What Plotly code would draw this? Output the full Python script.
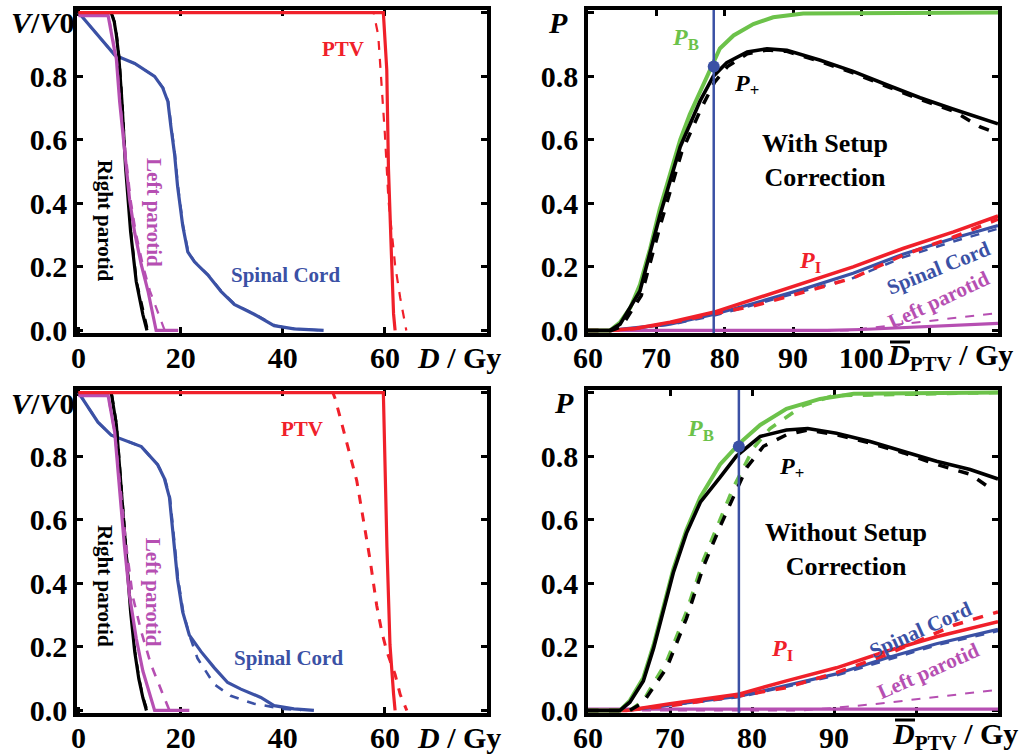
import plotly.graph_objects as go

# ---------------- data ----------------
# Top-left: DVH with setup correction
tl_rp_D = [0, 6.4, 7.0, 7.4, 7.9, 8.5, 9.2, 10.2, 11.3, 12.6, 13.4]
tl_rp_V = [1, 1, 0.97, 0.93, 0.86, 0.72, 0.515, 0.31, 0.154, 0.05, 0]
tl_rp_D_d = [0, 6.5, 7.1, 7.5, 8.0, 8.6, 9.3, 10.3, 11.4, 12.8, 13.6]
tl_rp_V_d = [1, 1, 0.97, 0.93, 0.86, 0.72, 0.515, 0.31, 0.154, 0.05, 0]
tl_lp_D = [0, 5.8, 7.1, 7.4, 8.05, 8.7, 9.36, 10.0, 10.97, 12.3, 13.6, 14.56, 15.2, 19.5]
tl_lp_V = [0.99, 0.99, 0.876, 0.855, 0.72, 0.618, 0.515, 0.412, 0.31, 0.206, 0.124, 0.052, 0.0, 0.0]
tl_lp_D_d = [0, 5.9, 7.2, 7.5, 8.15, 8.8, 9.5, 10.2, 11.2, 12.6, 14.0, 15.2, 16.0, 16.8, 19.5]
tl_lp_V_d = [0.99, 0.99, 0.876, 0.855, 0.72, 0.618, 0.515, 0.412, 0.31, 0.206, 0.124, 0.07, 0.04, 0.003, 0.0]
tl_sc_D = [0, 3.2, 7.1, 11.0, 14.9, 16.5, 17.5, 18.1, 18.8, 19.4, 20.4, 21.4, 22.7, 25.3, 27.9, 30.5, 34.4, 38.3, 42.2, 48.0]
tl_sc_V = [1, 0.938, 0.866, 0.84, 0.799, 0.763, 0.72, 0.64, 0.556, 0.453, 0.33, 0.247, 0.216, 0.175, 0.123, 0.082, 0.051, 0.015, 0.005, 0]
tl_sc_D_d = [0, 3.2, 7.1, 11.0, 14.9, 16.6, 17.6, 18.2, 18.9, 19.5, 20.5, 21.5, 22.8, 25.4, 28.0, 30.7, 34.6, 38.6, 42.5, 48.0]
tl_sc_V_d = tl_sc_V
tl_ptv_D = [0, 59.7, 60.37, 60.7, 61.35, 61.7, 62.0]
tl_ptv_V = [1, 1, 0.82, 0.51, 0.206, 0.052, 0]
tl_ptv_D_d = [0, 57.8, 58.7, 59.4, 60.0, 60.7, 62.0, 63.0, 63.9, 64.2]
tl_ptv_V_d = [1, 1, 0.928, 0.773, 0.618, 0.41, 0.206, 0.103, 0.031, 0]

# Bottom-left: DVH without setup correction
bl_rp_D = [0, 6.4, 7.4, 8.25, 8.7, 9.36, 10.2, 11.0, 11.8, 12.6, 13.3]
bl_rp_V = [1, 1, 0.9, 0.72, 0.62, 0.464, 0.31, 0.185, 0.1, 0.04, 0]
bl_rp_D_d = [0, 6.5, 7.5, 8.35, 8.8, 9.46, 10.3, 11.1, 11.9, 12.7, 13.5]
bl_rp_V_d = bl_rp_V
bl_lp_D = [0, 5.8, 7.08, 8.05, 9.0, 10.0, 11.3, 12.6, 13.9, 14.9, 21.7]
bl_lp_V = [0.99, 0.99, 0.876, 0.69, 0.515, 0.36, 0.227, 0.124, 0.052, 0, 0]
bl_lp_D_d = [0, 5.8, 7.08, 8.4, 9.36, 10.6, 12.3, 14.2, 16.2, 17.8, 21.7]
bl_lp_V_d = [0.99, 0.99, 0.876, 0.67, 0.515, 0.36, 0.247, 0.144, 0.062, 0, 0]
bl_sc_D = [0, 3.8, 6.4, 12.3, 15.5, 16.8, 17.8, 18.4, 19.4, 20.4, 21.7, 24.0, 26.6, 29.2, 31.8, 35.7, 38.3, 42.2, 46.1]
bl_sc_V = [1, 0.907, 0.866, 0.83, 0.773, 0.73, 0.67, 0.567, 0.412, 0.31, 0.237, 0.185, 0.134, 0.088, 0.067, 0.041, 0.015, 0.005, 0]
bl_sc_D_d = [0, 3.8, 6.4, 12.3, 15.5, 16.9, 17.9, 18.5, 19.5, 20.5, 21.7, 23.3, 26.6, 29.8, 34.4, 40.2, 43.5]
bl_sc_V_d = [1, 0.907, 0.866, 0.83, 0.773, 0.73, 0.67, 0.567, 0.412, 0.31, 0.237, 0.164, 0.082, 0.046, 0.021, 0.005, 0]
bl_ptv_D = [0, 59.7, 60.4, 61.0, 61.7, 62.0]
bl_ptv_V = [1, 1, 0.515, 0.206, 0.052, 0]
bl_ptv_D_d = [0, 49.8, 50.3, 52.9, 54.5, 55.8, 57.1, 58.4, 59.4, 60.4, 62.0, 63.0, 64.3]
bl_ptv_V_d = [1, 1, 0.979, 0.825, 0.722, 0.598, 0.474, 0.33, 0.247, 0.185, 0.113, 0.05, 0]

# Top-right: probabilities with setup correction
tr_pb_D = [60, 63.2, 64.7, 66.2, 67.6, 69.1, 70.5, 72.0, 73.5, 74.9, 76.4, 77.9, 79.3, 81.3, 84.2, 87.1, 91.5, 120]
tr_pb_P = [0, 0, 0.026, 0.072, 0.144, 0.258, 0.382, 0.495, 0.6, 0.68, 0.753, 0.825, 0.887, 0.928, 0.964, 0.985, 0.997, 1.0]
tr_pp_D = [60, 63.2, 64.7, 67.6, 70.5, 73.5, 76.4, 78.35, 80.3, 83.3, 86.2, 89.1, 94.0, 98.8, 103.7, 108.6, 113.5, 120]
tr_pp_P = [0, 0, 0.02, 0.124, 0.36, 0.578, 0.722, 0.80, 0.842, 0.876, 0.886, 0.881, 0.85, 0.815, 0.773, 0.732, 0.696, 0.65]
tr_pp_D_d = [60, 63.4, 64.9, 67.8, 70.7, 73.7, 76.6, 78.5, 80.4, 83.3, 86.2, 89.1, 94.0, 98.8, 103.7, 108.6, 113.5, 117.4, 120]
tr_pp_P_d = [0, 0, 0.012, 0.11, 0.34, 0.56, 0.70, 0.78, 0.83, 0.87, 0.882, 0.878, 0.846, 0.81, 0.768, 0.727, 0.69, 0.64, 0.62]
tr_pi_D = [60, 63.2, 67.1, 72.0, 78.35, 84.2, 91.5, 98.8, 106.1, 113.5, 120]
tr_pi_P = [0, 0, 0.007, 0.026, 0.057, 0.098, 0.15, 0.2, 0.258, 0.31, 0.36]
tr_pi_D_d = [60, 63.2, 67.1, 72.0, 78.35, 84.2, 91.5, 98.8, 106.1, 113.5, 120]
tr_pi_P_d = [0, 0, 0.006, 0.024, 0.052, 0.077, 0.12, 0.165, 0.237, 0.294, 0.35]
tr_sc_D = [60, 63.2, 72.0, 78.35, 84.2, 91.5, 98.8, 106.1, 113.5, 120]
tr_sc_P = [0, 0, 0.02, 0.05, 0.085, 0.13, 0.18, 0.24, 0.29, 0.33]
tr_sc_P_d = [0, 0, 0.018, 0.046, 0.08, 0.124, 0.165, 0.23, 0.28, 0.32]
tr_lp_D = [60, 95, 100, 105, 110, 115, 120]
tr_lp_P = [0, 0, 0.003, 0.008, 0.012, 0.017, 0.022]
tr_lp_D_d = [60, 98, 102, 106, 110, 114, 118, 120]
tr_lp_P_d = [0, 0, 0.01, 0.02, 0.03, 0.04, 0.05, 0.055]

# Bottom-right: probabilities without setup correction
br_pb_D = [60, 63.9, 65.1, 66.75, 68.0, 69.2, 70.4, 72.0, 73.7, 76.1, 78.5, 81.0, 84.2, 88.3, 92.4, 110]
br_pb_P = [0, 0, 0.031, 0.103, 0.206, 0.33, 0.444, 0.568, 0.671, 0.774, 0.841, 0.898, 0.949, 0.98, 0.996, 1.0]
br_pb_D_d = [60, 65.1, 66.75, 69.6, 72.0, 74.1, 76.1, 77.7, 80.2, 82.2, 86.3, 89.9, 110]
br_pb_P_d = [0, 0, 0.031, 0.155, 0.31, 0.475, 0.6, 0.70, 0.826, 0.887, 0.96, 0.99, 1.0]
br_pp_D = [60, 63.9, 65.1, 66.75, 68.0, 69.2, 70.4, 72.0, 73.7, 76.1, 78.1, 81.0, 84.2, 86.8, 90.3, 94.4, 98.5, 102.5, 106.6, 110]
br_pp_P = [0, 0, 0.026, 0.093, 0.196, 0.32, 0.433, 0.557, 0.655, 0.733, 0.80, 0.862, 0.882, 0.887, 0.872, 0.846, 0.815, 0.784, 0.758, 0.728]
br_pp_D_d = [60, 65.1, 66.75, 69.6, 72.0, 74.1, 76.1, 77.7, 79.35, 81.4, 84.2, 86.8, 90.3, 94.4, 98.5, 102.5, 106.6, 108.6]
br_pp_P_d = [0, 0, 0.026, 0.134, 0.289, 0.454, 0.578, 0.671, 0.764, 0.831, 0.867, 0.882, 0.867, 0.841, 0.81, 0.774, 0.743, 0.707]
br_pi_D = [60, 64.7, 70.0, 74.5, 78.5, 84.2, 90.3, 96.4, 102.5, 110]
br_pi_P = [0, 0, 0.021, 0.036, 0.052, 0.093, 0.134, 0.186, 0.232, 0.279]
br_pi_D_d = [60, 64.7, 70.0, 78.5, 84.2, 90.3, 96.4, 104.6, 110]
br_pi_P_d = [0, 0, 0.015, 0.046, 0.072, 0.119, 0.175, 0.268, 0.31]
br_sc_D = [60, 64.7, 78.5, 90.3, 96.4, 102.5, 110]
br_sc_P = [0, 0, 0.045, 0.115, 0.165, 0.21, 0.255]
br_sc_P_d = [0, 0, 0.042, 0.11, 0.158, 0.205, 0.25]
br_lp_D = [60, 110]
br_lp_P = [0.004, 0.004]
br_lp_D_d = [60, 86, 90, 95, 100, 105, 110]
br_lp_P_d = [0, 0, 0.008, 0.02, 0.035, 0.05, 0.065]

# optimum marker
opt_D = [78.4, 78.4]
opt_P = [0.83, 0.83]

# tick labels
dvh_xticks = [0, 20, 40, 60, 80]
dvh_xtext = ["0", "20", "40", "60", ""]
tr_xticks = [60, 70, 80, 90, 100, 110, 120]
tr_xtext = ["60", "70", "80", "90", "100", "", ""]
br_xticks = [60, 70, 80, 90, 100, 110]
br_xtext = ["60", "70", "80", "90", "", ""]
yticks = [0, 0.2, 0.4, 0.6, 0.8, 1.0]
ytext = ["0.0", "0.2", "0.4", "0.6", "0.8", ""]

# ---------------- styling ----------------
RED = "#f0202a"
GREEN = "#6cc24a"
BLACK = "#000000"
BLUE = "#3b51a5"
MAG = "#b64fb2"
FONT = "Liberation Serif"
W, H = 1020, 755

fig = go.Figure()
axes = {1: ("x", "y"), 2: ("x2", "y2"), 3: ("x3", "y3"), 4: ("x4", "y4")}


def add(xs, ys, color, panel, dash="solid", width=3.2):
    xa, ya = axes[panel]
    fig.add_trace(go.Scatter(x=xs, y=ys, mode="lines", xaxis=xa, yaxis=ya,
                             line=dict(color=color, width=width, dash=dash),
                             showlegend=False, hoverinfo="skip"))


# Top-left
add(tl_sc_D_d, tl_sc_V_d, BLUE, 1, "dash", 2.2)
add(tl_sc_D, tl_sc_V, BLUE, 1)
add(tl_rp_D_d, tl_rp_V_d, BLACK, 1, "dash", 2.2)
add(tl_rp_D, tl_rp_V, BLACK, 1)
add(tl_lp_D_d, tl_lp_V_d, MAG, 1, "dash", 2.2)
add(tl_lp_D, tl_lp_V, MAG, 1)
add(tl_ptv_D_d, tl_ptv_V_d, RED, 1, "dash", 2.2)
add(tl_ptv_D, tl_ptv_V, RED, 1)

# Bottom-left
add(bl_sc_D_d, bl_sc_V_d, BLUE, 3, "dash", 2.6)
add(bl_sc_D, bl_sc_V, BLUE, 3)
add(bl_rp_D_d, bl_rp_V_d, BLACK, 3, "dash", 2.2)
add(bl_rp_D, bl_rp_V, BLACK, 3)
add(bl_lp_D_d, bl_lp_V_d, MAG, 3, "dash", 2.6)
add(bl_lp_D, bl_lp_V, MAG, 3)
add(bl_ptv_D_d, bl_ptv_V_d, RED, 3, "dash", 3)
add(bl_ptv_D, bl_ptv_V, RED, 3)

# Top-right
add(tr_lp_D_d, tr_lp_P_d, MAG, 2, "dash", 2)
add(tr_lp_D, tr_lp_P, MAG, 2)
add(tr_sc_D, tr_sc_P_d, BLUE, 2, "dash", 2.5)
add(tr_sc_D, tr_sc_P, BLUE, 2)
add(tr_pi_D_d, tr_pi_P_d, RED, 2, "dash", 3.5)
add(tr_pi_D, tr_pi_P, RED, 2, width=3.6)
add(tr_pb_D, tr_pb_P, GREEN, 2, width=4)
add(tr_pp_D_d, tr_pp_P_d, BLACK, 2, "dash", 3.5)
add(tr_pp_D, tr_pp_P, BLACK, 2, width=3.6)

# Bottom-right
add(br_lp_D_d, br_lp_P_d, MAG, 4, "dash", 2)
add(br_lp_D, br_lp_P, MAG, 4)
add(br_sc_D, br_sc_P_d, BLUE, 4, "dash", 2.5)
add(br_sc_D, br_sc_P, BLUE, 4)
add(br_pi_D_d, br_pi_P_d, RED, 4, "dash", 3.5)
add(br_pi_D, br_pi_P, RED, 4, width=3.6)
add(br_pb_D_d, br_pb_P_d, GREEN, 4, "dash", 3.5)
add(br_pb_D, br_pb_P, GREEN, 4, width=4)
add(br_pp_D_d, br_pp_P_d, BLACK, 4, "dash", 3.5)
add(br_pp_D, br_pp_P, BLACK, 4, width=3.6)

# vertical optimum lines and markers
for p in (2, 4):
    xa, ya = axes[p]
    fig.add_trace(go.Scatter(x=opt_D, y=[-0.01, 1.01], mode="lines", xaxis=xa, yaxis=ya,
                             line=dict(color=BLUE, width=2.5), showlegend=False, hoverinfo="skip"))
    fig.add_trace(go.Scatter(x=opt_D[:1], y=opt_P[:1], mode="markers", xaxis=xa, yaxis=ya,
                             marker=dict(color=BLUE, size=12), showlegend=False, hoverinfo="skip"))

# ---------------- axes ----------------
def px_dom_x(a, b):
    return [a / W, b / W]


def px_dom_y(top, bot):
    return [1 - bot / H, 1 - top / H]


tick_font = dict(family=FONT, size=30, color="black", weight="bold")
common = dict(showline=True, linecolor="black", linewidth=3.5, mirror="allticks",
              ticks="inside", ticklen=6, tickwidth=3, tickcolor="black", automargin=False,
              showgrid=False, zeroline=False, tickfont=tick_font, layer="below traces")

panels = {
    1: dict(xd=px_dom_x(77, 487), yd=px_dom_y(10, 333), xr=[-0.3, 80], xt=(dvh_xticks, dvh_xtext)),
    2: dict(xd=px_dom_x(588, 998), yd=px_dom_y(10, 333), xr=[60, 120], xt=(tr_xticks, tr_xtext)),
    3: dict(xd=px_dom_x(77, 487), yd=px_dom_y(390, 713), xr=[-0.3, 80], xt=(dvh_xticks, dvh_xtext)),
    4: dict(xd=px_dom_x(588, 998), yd=px_dom_y(390, 713), xr=[60, 110], xt=(br_xticks, br_xtext)),
}
layout = {}
for i, p in panels.items():
    sx = "" if i == 1 else str(i)
    layout["xaxis" + sx] = dict(domain=p["xd"], range=p["xr"], anchor="y" + sx,
                                tickvals=p["xt"][0], ticktext=p["xt"][1],
                                ticklabelstandoff=-5, **common)
    layout["yaxis" + sx] = dict(domain=p["yd"], range=[-0.008, 1.008], anchor="x" + sx,
                                tickvals=yticks, ticktext=ytext, **common)

fig.update_layout(width=W, height=H, margin=dict(l=0, r=0, t=0, b=0, autoexpand=False),
                  paper_bgcolor="white", plot_bgcolor="white", **layout)


# ---------------- annotations ----------------
def ann(text, x, y, panel=None, color="black", size=21, angle=0, paper=False, xanchor="center"):
    if paper:
        xr, yr = "paper", "paper"
    else:
        xr, yr = axes[panel]
    fig.add_annotation(text=text, x=x, y=y, xref=xr, yref=yr, showarrow=False,
                       xanchor=xanchor, yanchor="middle",
                       textangle=angle, font=dict(family=FONT, size=size, color=color, weight="bold"))


# axis titles
for top in (23, 403):
    ann("<i>V</i>/<i>V</i>0", 42 / W, 1 - top / H, paper=True, size=30)
for yy in (357, 737):
    ann("<i>D</i> / Gy", 459 / W, 1 - yy / H, paper=True, size=30)
ann("<i>P</i>", 558 / W, 1 - 22 / H, paper=True, size=30)
ann("<i>P</i>", 564 / W, 1 - 402 / H, paper=True, size=30)
# D-bar PTV titles (bar drawn as a short line above the D)
for left, yy, bar_y in ((885, 357, 342), (890, 736, 720)):
    ann("<i>D</i><sub>PTV</sub> / Gy", left / W, 1 - yy / H, paper=True, size=30, xanchor="left")
    fig.add_shape(type="line", xref="paper", yref="paper",
                  x0=(left + 5) / W, x1=(left + 25) / W,
                  y0=1 - bar_y / H, y1=1 - bar_y / H,
                  line=dict(color="black", width=3))

# top-left labels
ann("Right parotid", 5.07, 0.344, 1, BLACK, 21, 90)
ann("Left parotid", 14.8, 0.372, 1, MAG, 21, 90)
ann("Spinal Cord", 40.5, 0.173, 1, BLUE, 21)
ann("PTV", 51.7, 0.885, 1, RED, 21)
# bottom-left labels
ann("Right parotid", 5.07, 0.39, 3, BLACK, 21, 90)
ann("Left parotid", 14.6, 0.373, 3, MAG, 21, 90)
ann("Spinal Cord", 41.2, 0.164, 3, BLUE, 21)
ann("PTV", 43.8, 0.886, 3, RED, 21)
# top-right labels
ann("<i>P</i><sub>B</sub>", 74.2, 0.917, 2, GREEN, 24)
ann("<i>P</i><sub>+</sub>", 83.2, 0.773, 2, BLACK, 24)
ann("With Setup<br>Correction", 94.7, 0.536, 2, BLACK, 26)
ann("<i>P</i><sub>I</sub>", 92.5, 0.216, 2, RED, 24)
ann("Spinal Cord", 111.3, 0.195, 2, BLUE, 21, -22)
ann("Left parotid", 111.3, 0.097, 2, MAG, 21, -25)
# bottom-right labels
ann("<i>P</i><sub>B</sub>", 73.7, 0.881, 4, GREEN, 24)
ann("<i>P</i><sub>+</sub>", 84.8, 0.763, 4, BLACK, 24)
ann("Without Setup<br>Correction", 91.5, 0.505, 4, BLACK, 26)
ann("<i>P</i><sub>I</sub>", 83.6, 0.19, 4, RED, 24)
ann("Spinal Cord", 100.5, 0.252, 4, BLUE, 21, -24)
ann("Left parotid", 101.5, 0.123, 4, MAG, 21, -24)

fig.write_html("out.html", config={"displayModeBar": False},
               post_script="document.body.style.margin='0';")
